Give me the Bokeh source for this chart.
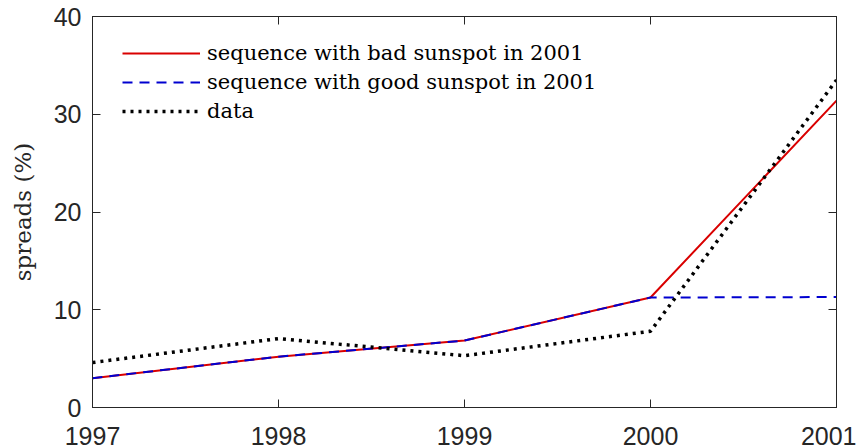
from bokeh.plotting import figure
from bokeh.models import LinearAxis, Legend, LegendItem, FixedTicker, Range1d, CustomJSTickFormatter
from bokeh.embed import file_html
from bokeh.resources import INLINE

years = [1997, 1998, 1999, 2000, 2001]
bad_sunspot = [3.0, 5.2, 6.85, 11.25, 31.4]
good_sunspot = [3.0, 5.2, 6.85, 11.25, 11.3]
data_spreads = [4.6, 7.05, 5.3, 7.8, 33.5]

x_ticks = [1997, 1998, 1999, 2000, 2001]
y_ticks = [0, 10, 20, 30, 40]

AX = "#262626"

p = figure(width=856, height=448, output_backend="svg", toolbar_location=None,
           x_range=Range1d(1997, 2001), y_range=Range1d(0, 40),
           min_border_left=92, min_border_right=20, min_border_top=16, min_border_bottom=41)
p.xgrid.visible = False
p.ygrid.visible = False
p.outline_line_color = AX
p.outline_line_width = 1

def style_axis(ax):
    ax.axis_line_color = AX
    ax.major_tick_line_color = AX
    ax.major_tick_in = 8
    ax.major_tick_out = 0
    ax.minor_tick_line_color = None
    ax.major_label_text_font = "Liberation Sans"
    ax.major_label_text_font_size = "25px"
    ax.major_label_text_color = AX

p.xaxis.ticker = FixedTicker(ticks=x_ticks)
p.yaxis.ticker = FixedTicker(ticks=y_ticks)
style_axis(p.xaxis[0])
style_axis(p.yaxis[0])
p.xaxis.major_label_standoff = 19
p.yaxis.major_label_standoff = 11
p.yaxis.axis_label = "spreads (%)"
p.yaxis.axis_label_text_font = "DejaVu Serif"
p.yaxis.axis_label_text_font_style = "normal"
p.yaxis.axis_label_text_font_size = "23px"
p.yaxis.axis_label_text_color = AX
p.yaxis.axis_label_standoff = 15

blank = CustomJSTickFormatter(code="return ''")
top = LinearAxis(ticker=FixedTicker(ticks=x_ticks), formatter=blank)
style_axis(top)
top.major_label_standoff = 0
right = LinearAxis(ticker=FixedTicker(ticks=y_ticks), formatter=blank)
style_axis(right)
right.major_label_standoff = 0
p.add_layout(top, "above")
p.add_layout(right, "right")

r_bad = p.line(years, bad_sunspot, line_color="#d90000", line_width=2)
r_good = p.line(years, good_sunspot, line_color="#0000d0", line_width=2, line_dash="10 7")
r_data = p.line(years, data_spreads, line_color="black", line_width=3.5, line_dash="3 5")

legend = Legend(items=[
    LegendItem(label="sequence with bad sunspot in 2001", renderers=[r_bad]),
    LegendItem(label="sequence with good sunspot in 2001", renderers=[r_good]),
    LegendItem(label="data", renderers=[r_data]),
], location=(30, 284), padding=0, margin=0, spacing=5,
    glyph_width=78, glyph_height=20, label_height=20, label_standoff=7,
    label_text_font="DejaVu Serif", label_text_font_size="21px",
    label_text_color="black", border_line_color=None, background_fill_alpha=0)
p.add_layout(legend, "center")

open("out.html", "w").write(file_html(p, INLINE))
